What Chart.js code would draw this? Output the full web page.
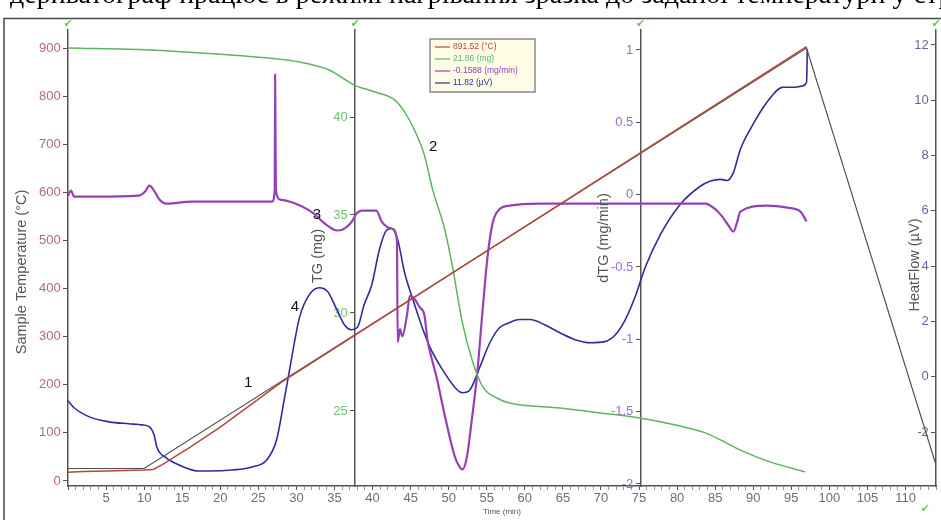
<!DOCTYPE html>
<html>
<head>
<meta charset="utf-8">
<script src="https://cdn.jsdelivr.net/npm/chart.js@4.4.1/dist/chart.umd.min.js"></script>
<style>
  html, body { margin: 0; padding: 0; background: #fff; }
  #wrap { position: relative; width: 941px; height: 520px; overflow: hidden; }
  #chart { position: absolute; left: 0; top: 0; }
  #cap { position: absolute; left: 0; top: 0; width: 941px; height: 16px; overflow: hidden; }
  #cap span { position: absolute; left: 10px; top: -22px; font: 28px 'Liberation Serif', serif; white-space: nowrap; color: #000; }
</style>
</head>
<body>
<div id="wrap">
  <canvas id="chart" width="941" height="520"></canvas>
  <div id="cap"><span>дериватограф працює в режимі нагрівання зразка до заданої температури у струмі</span></div>
</div>
<script>
// --- DADOS ---
// temperatura da amostra (°C)
const tempTime = [0, 2, 5, 10, 11.2, 12.5, 14, 16, 20, 28, 97];
const tempVals = [18, 20, 21, 23, 24, 35, 50, 70, 112, 205, 903];

// temperatura do programa (linha cinza)
const progTime = [0, 10, 97, 114];
const progVals = [26, 26, 900, 33];

// TG (mg)
const tgTime = [0, 10.7, 20, 26.4, 30.4, 34.3, 37.6, 40.3, 42.9, 44.2, 45.5, 46.8, 47.9, 49.5, 50.5,
  51.8, 53.2, 54.5, 56.3, 58.0, 64.6, 69.9, 75.1, 80.4, 83.7, 85.7, 88.3, 92.2, 96.8];
const tgVals = [43.52, 43.42, 43.2, 43.01, 42.81, 42.4, 41.63, 41.28, 40.87, 40.26, 39.34, 38.06, 36.28, 34.23, 32.35,
  29.49, 27.45, 26.22, 25.66, 25.41, 25.15, 24.9, 24.64, 24.23, 23.88, 23.52, 23.0, 22.4, 21.89];

// dTG (mg/min)
const dtgTime = [0, 0.4, 0.8, 3.2, 9.3, 10.1, 10.7, 11.3, 12.0, 12.9, 16.3, 20.8, 26.8, 27.15, 27.2,
  27.3, 27.9, 29.5, 32.1, 33.9, 35.3, 36.1, 37.2, 37.9, 38.6, 40.5, 41.2, 42.5, 43.2, 43.3,
  43.6, 43.9, 44.5, 44.9, 45.5, 46.2, 46.8, 47.2, 47.8, 48.4, 49.5, 50.8, 51.4, 51.8, 52.4,
  53.0, 53.7, 54.5, 55.1, 55.8, 56.7, 58.0, 62.0, 69.9, 75.1, 81.7, 83.7, 85.0, 85.9, 86.7,
  87.4, 87.9, 88.3, 91.8, 94.5, 96.2, 97.0];
const dtgVals = [-0.007, 0.028, -0.014, -0.014, -0.007, 0.02, 0.062, 0.028, -0.034, -0.062, -0.048, -0.048, -0.048, 0.03, 0.83,
  0.03, -0.034, -0.055, -0.124, -0.207, -0.248, -0.241, -0.193, -0.131, -0.110, -0.110, -0.186, -0.234, -0.31, -1.02,
  -0.93, -0.98, -0.84, -0.70, -0.72, -0.78, -0.83, -1.0, -1.14, -1.26, -1.53, -1.81, -1.88, -1.90, -1.81,
  -1.57, -1.26, -0.77, -0.43, -0.19, -0.10, -0.076, -0.062, -0.062, -0.062, -0.062, -0.062, -0.10, -0.15, -0.21,
  -0.255, -0.186, -0.117, -0.076, -0.09, -0.117, -0.186];

// HeatFlow (µV)
const hfTime = [0, 0.8, 2.8, 5.4, 8.0, 9.7, 10.7, 11.3, 11.7, 12.9, 14.6, 17.2, 18.6, 21.6, 24.2,
  26.1, 27.4, 28.4, 29.1, 30.4, 31.7, 33.0, 34.1, 35.3, 36.3, 37.2, 38.0, 38.9, 39.9, 40.9,
  41.8, 42.5, 43.3, 44.2, 45.3, 46.4, 47.5, 49.2, 51.1, 51.8, 52.8, 54.1, 55.4, 56.7, 58.0,
  59.3, 60.7, 62.6, 64.6, 66.6, 68.6, 70.5, 71.8, 73.2, 74.5, 75.8, 77.8, 80.4, 83.0, 84.3,
  85.7, 86.6, 87.4, 88.3, 89.6, 91.8, 93.9, 95.3, 96.4, 97.0, 97.1];
const hfVals = [-0.87, -1.12, -1.45, -1.63, -1.70, -1.74, -1.81, -2.10, -2.57, -2.93, -3.19, -3.41, -3.41, -3.37, -3.26,
  -3.01, -2.28, -0.83, 0.25, 2.14, 2.97, 3.22, 3.08, 2.43, 1.88, 1.70, 1.78, 2.61, 3.33, 4.60,
  5.29, 5.36, 4.96, 3.77, 2.79, 1.88, 1.09, 0.25, -0.47, -0.58, -0.47, 0.36, 1.23, 1.78, 1.96,
  2.07, 2.07, 1.88, 1.59, 1.34, 1.23, 1.27, 1.49, 2.07, 2.90, 3.95, 5.14, 6.23, 6.88, 7.07,
  7.14, 7.10, 7.39, 8.22, 8.95, 9.93, 10.47, 10.47, 10.51, 10.65, 11.85];

// legenda e marcas numeradas
const legendLabels = ['891.52 (°C)', '21.86 (mg)', '-0.1588 (mg/min)', '11.82 (µV)'];
const markLabels = ['1', '2', '3', '4'];
const markTime = [23.65, 47.96, 32.7, 29.8];
const markTemp = [204, 694, 553, 362];

// posição dos eixos sobre o eixo do tempo
const axisAt = { yT: 0, yTG: 37.7, yD: 75.2, yH: 114 };

const cores = {
  temp: '#b5473d', prog: '#4f4f4f', tg: '#5db65d', dtg: '#9441b8', hf: '#2d2d9c'
};

const pts = (xs, ys) => xs.map((x, i) => ({ x: x, y: ys[i] }));

const eixoY = (id, min, max, step, cor) => ({
  axis: 'y',
  position: { x: axisAt[id] },
  min: min, max: max,
  ticks: {
    stepSize: step, includeBounds: false, color: cor,
    font: { family: 'Liberation Sans', size: 13 },
    callback: v => v + '  '
  },
  grid: { drawOnChartArea: false, tickLength: 4, color: '#555' },
  border: { color: '#555', width: 1.5 }
});

// curvas suaves (tensao > 0) ou retas (tensao 0)
const linha = (label, xs, ys, cor, eixo, w, suave) => ({
  label: label, data: pts(xs, ys), yAxisID: eixo,
  borderColor: cor, borderWidth: w, pointRadius: 0, fill: false,
  cubicInterpolationMode: suave ? 'monotone' : 'default', tension: suave ? 0.4 : 0
});

// --- PLUGIN: títulos, legenda, marcas ---
const extras = {
  id: 'extras',
  afterDraw(chart) {
    const { ctx, scales } = chart;
    const px = t => scales.x.getPixelForValue(t);
    ctx.save();

    // moldura
    ctx.strokeStyle = '#4a4a4a';
    ctx.lineWidth = 1.5;
    ctx.beginPath();
    ctx.moveTo(4, 520); ctx.lineTo(4, 18.5); ctx.lineTo(941, 18.5);
    ctx.stroke();

    // títulos verticais
    const titulos = [
      ['Sample Temperature (°C)', px(axisAt.yT) - 46, 272],
      ['TG (mg)', px(axisAt.yTG) - 37, 256],
      ['dTG (mg/min)', px(axisAt.yD) - 37, 238],
      ['HeatFlow (µV)', px(axisAt.yH) - 21, 265]
    ];
    ctx.fillStyle = '#555';
    ctx.font = '14.5px "Liberation Sans"';
    ctx.textAlign = 'center';
    ctx.textBaseline = 'middle';
    titulos.forEach(([txt, x, y]) => {
      ctx.save();
      ctx.translate(x, y);
      ctx.rotate(-Math.PI / 2);
      ctx.fillText(txt, 0, 0);
      ctx.restore();
    });

    // check verdes
    ctx.fillStyle = '#76c265';
    ctx.font = '11px "DejaVu Sans"';
    Object.values(axisAt).forEach(t => ctx.fillText('✔', px(t), 24));
    ctx.fillText('✔', 925, 509);

    // marcas 1..4
    ctx.fillStyle = '#111';
    ctx.font = '15px "Liberation Sans"';
    markLabels.forEach((m, i) => {
      ctx.fillText(m, px(markTime[i]), scales.yT.getPixelForValue(markTemp[i]));
    });

    // legenda
    const lx = 430, ly = 39, lw = 105, lh = 53;
    ctx.fillStyle = '#fffde6';
    ctx.fillRect(lx, ly, lw, lh);
    ctx.strokeStyle = '#8a8a8a';
    ctx.lineWidth = 1.5;
    ctx.strokeRect(lx, ly, lw, lh);
    const coresLeg = [cores.temp, cores.tg, cores.dtg, cores.hf];
    ctx.font = '8.5px "Liberation Sans"';
    ctx.textAlign = 'left';
    legendLabels.forEach((txt, i) => {
      const y = ly + 8 + i * 12;
      ctx.strokeStyle = coresLeg[i];
      ctx.lineWidth = 1.2;
      ctx.beginPath(); ctx.moveTo(lx + 5, y); ctx.lineTo(lx + 20, y); ctx.stroke();
      ctx.fillStyle = coresLeg[i];
      ctx.fillText(txt, lx + 23, y);
    });
    ctx.restore();
  }
};

new Chart(document.getElementById('chart'), {
  type: 'line',
  data: {
    datasets: [
      linha('temp', tempTime, tempVals, cores.temp, 'yT', 1.5, false),
      linha('prog', progTime, progVals, cores.prog, 'yT', 1.2, false),
      linha('TG', tgTime, tgVals, cores.tg, 'yTG', 1.5, true),
      linha('dTG', dtgTime, dtgVals, cores.dtg, 'yD', 2.2, true),
      linha('HF', hfTime, hfVals, cores.hf, 'yH', 1.6, true)
    ]
  },
  options: {
    responsive: false,
    animation: false,
    events: [],
    layout: { padding: { left: 68, right: 5, top: 30, bottom: 0 } },
    plugins: { legend: { display: false }, tooltip: { enabled: false } },
    scales: {
      x: {
        type: 'linear', position: 'bottom', min: 0, max: 114,
        ticks: {
          stepSize: 1, autoSkip: false, maxRotation: 0, padding: 1,
          color: '#6e6e6e', font: { family: 'Liberation Sans', size: 13 },
          callback: v => (v % 5 === 0 && v > 0 && v < 114) ? v : ''
        },
        grid: {
          drawOnChartArea: false, tickLength: 4,
          color: c => (c.tick && c.tick.value % 5 === 0) ? '#555' : '#999'
        },
        border: { color: '#555', width: 1.5 },
        title: { display: true, text: 'Time (min)', color: '#555', font: { size: 8 }, padding: { top: 0, bottom: 3 } },
        afterFit: s => { s.height = 34; s.paddingLeft = 0; s.paddingRight = 0; }
      },
      yT: eixoY('yT', -10.4, 937.6, 100, '#b26c6c'),
      yTG: eixoY('yTG', 21.17, 44.44, 5, '#72c072'),
      yD: eixoY('yD', -2.014, 1.138, 0.5, '#9a6ccb'),
      yH: eixoY('yH', -3.95, 12.54, 2, '#66669f')
    }
  },
  plugins: [extras]
});
</script>
</body>
</html>
